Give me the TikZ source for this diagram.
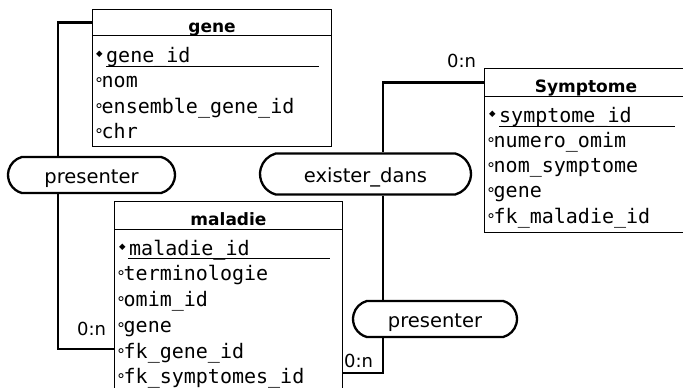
\documentclass[tikz,border=0pt]{standalone}
\usepackage{fontspec}
\setmainfont{DejaVu Sans}
\newfontfamily\attrfont{DejaVu Sans Mono}
\usepackage{tikz}
\usetikzlibrary{positioning}
\usetikzlibrary{shapes.misc}
\tikzset{my_link/.style={line width=2.2pt}}
\tikzset{my_table/.style={draw, line width=1pt, anchor=north west, inner sep=0pt}}
\tikzset{my_title/.style={my_table, font=\bfseries\fontsize{17}{17}\selectfont, text height=20pt, text depth=1pt}}
\tikzset{my_relation/.style={rounded rectangle, rounded rectangle arc length=150, draw, line width=2.3pt, inner sep=0pt, font=\fontsize{19.5}{20}\selectfont, text height=16pt, text depth=0pt, minimum height=36pt}}
\tikzset{my_attr/.style={anchor=base west, inner sep=0pt, font=\attrfont\fontsize{20}{20}\selectfont}}
\tikzset{my_card/.style={anchor=base west, inner sep=0pt, font=\fontsize{18}{18}\selectfont}}
\newcommand{\pkmark}{\makebox[10pt][l]{\raisebox{6pt}{\rmfamily\fontsize{8.5}{8.5}\selectfont ◆}}}
\newcommand{\atmark}{\makebox[6.5pt][l]{\raisebox{-2pt}{\rmfamily\fontsize{16}{16}\selectfont °}}}

\begin{document}
\begin{tikzpicture}[x=1pt, y=-1pt]
    \useasboundingbox (0,0) rectangle (683,388);

    % tables
    \node[my_title, minimum width=239pt, minimum height=26pt] (gene) at (92,9) {gene};
    \node[my_table, minimum width=239pt, minimum height=111pt] (gene-body) at (92,35) {};
    \node[my_attr] (gene-pk) at (96,62) {\pkmark gene\_id};
    \node[my_attr] (gene-a1) at (95,87) {\atmark nom};
    \node[my_attr] (gene-a2) at (95,113) {\atmark ensemble\_gene\_id};
    \node[my_attr] (gene-a3) at (95,138) {\atmark chr};
    \draw[line width=1pt] (106,66) -- (319,66);

    \node[my_title, minimum width=228pt, minimum height=28pt] (maladie) at (114,201) {maladie};
    \node[my_table, minimum width=228pt, minimum height=180pt] (maladie-body) at (114,229) {};
    \node[my_attr] (maladie-pk) at (119,255) {\pkmark maladie\_id};
    \node[my_attr] (maladie-a1) at (117,280) {\atmark terminologie};
    \node[my_attr] (maladie-a2) at (117,306) {\atmark omim\_id};
    \node[my_attr] (maladie-a3) at (117,332) {\atmark gene};
    \node[my_attr] (maladie-a4) at (117,358) {\atmark fk\_gene\_id};
    \node[my_attr] (maladie-a5) at (117,383) {\atmark fk\_symptomes\_id};
    \draw[line width=1pt] (128,258) -- (330,258);

    \node[my_title, minimum width=203pt, minimum height=28pt] (symptome) at (484,68) {Symptome};
    \node[my_table, minimum width=203pt, minimum height=136pt] (symptome-body) at (484,96) {};
    \node[my_attr] (symptome-pk) at (489,122) {\pkmark symptome\_id};
    \node[my_attr] (symptome-a1) at (487,147) {\atmark numero\_omim};
    \node[my_attr] (symptome-a2) at (487,172) {\atmark nom\_symptome};
    \node[my_attr] (symptome-a3) at (487,197) {\atmark gene};
    \node[my_attr] (symptome-a4) at (487,223) {\atmark fk\_maladie\_id};
    \draw[line width=1pt] (499,126) -- (675,126);

    % relations
    \node[my_relation, minimum width=167pt] (presenter-gene) at (91.5,175) {presenter};
    \node[my_relation, minimum width=211pt, minimum height=41pt] (exister) at (365.5,174) {exister\_dans};
    \node[my_relation, minimum width=164pt] (presenter-symp) at (435,319) {presenter};

    \coordinate (gene-bend) at (58,349);
    \coordinate (symp-bend) at (383,373);

    \draw[my_link] (gene.west) -| (gene-bend |- presenter-gene.north);
    \draw[my_link] (gene-bend |- presenter-gene.south) -- (gene-bend) -- (gene-bend -| maladie-body.west);
    \draw[my_link] (symptome.west) -| (symp-bend |- exister.north);
    \draw[my_link] (symp-bend |- exister.south) -- (symp-bend |- presenter-symp.north);
    \draw[my_link] (symp-bend |- presenter-symp.south) -- (symp-bend) -- (symp-bend -| maladie-body.east);

    % cardinalities
    \node[my_card] (card-gene) at (77,335) {0:n};
    \node[my_card] (card-maladie) at (344,367) {0:n};
    \node[my_card] (card-symptome) at (447,67) {0:n};
\end{tikzpicture}
\end{document}
